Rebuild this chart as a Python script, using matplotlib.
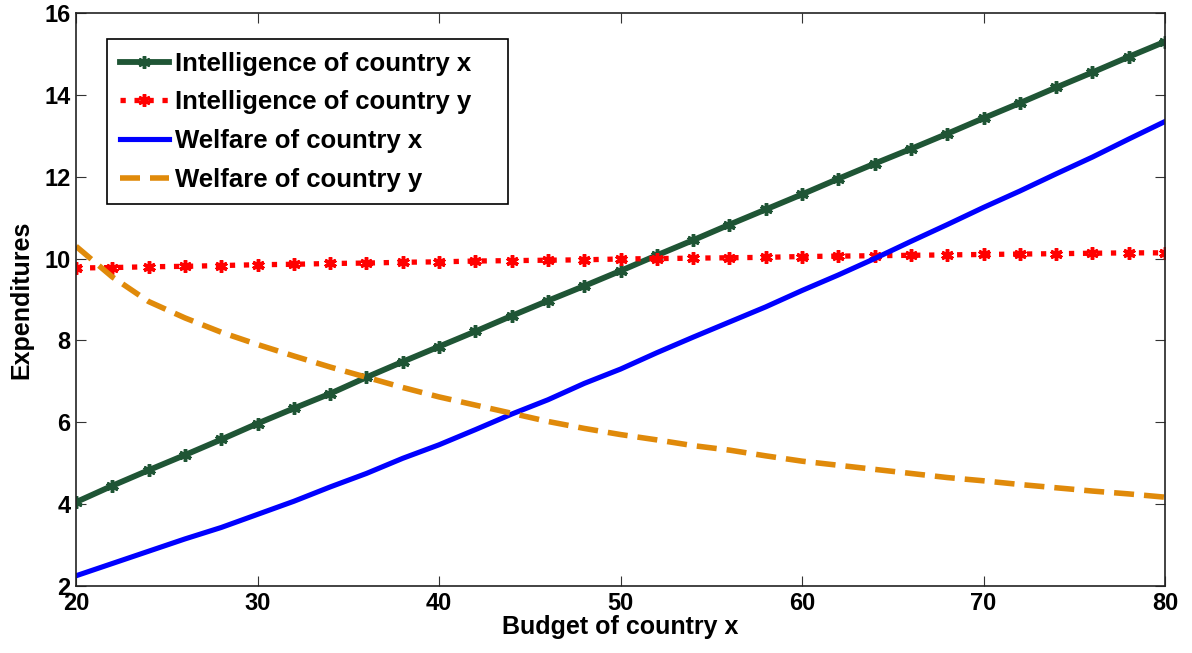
import matplotlib.pyplot as plt

plt.rcParams['font.family'] = ['Liberation Sans', 'DejaVu Sans']
plt.rcParams['font.weight'] = 'bold'

budget = list(range(20, 81, 2))

intel_x = [4.05, 4.45, 4.83, 5.20, 5.58, 5.97, 6.34, 6.70, 7.10, 7.48, 7.85,
           8.22, 8.60, 8.97, 9.33, 9.70, 10.08, 10.45, 10.83, 11.20, 11.57,
           11.95, 12.32, 12.68, 13.05, 13.43, 13.80, 14.18, 14.55, 14.93, 15.30]
intel_y = [9.77, 9.78, 9.80, 9.81, 9.83, 9.85, 9.86, 9.88, 9.89, 9.91, 9.92,
           9.94, 9.95, 9.96, 9.97, 9.99, 10.00, 10.01, 10.02, 10.03, 10.05,
           10.06, 10.07, 10.08, 10.09, 10.10, 10.11, 10.12, 10.13, 10.14, 10.14]
welfare_x = [2.25, 2.55, 2.85, 3.15, 3.43, 3.75, 4.07, 4.42, 4.75, 5.12, 5.45,
             5.82, 6.20, 6.55, 6.95, 7.30, 7.70, 8.08, 8.45, 8.82, 9.22,
             9.60, 10.00, 10.42, 10.83, 11.25, 11.65, 12.07, 12.48, 12.92, 13.35]
welfare_y = [10.30, 9.55, 8.95, 8.55, 8.20, 7.90, 7.62, 7.35, 7.10, 6.85, 6.62,
             6.42, 6.22, 6.02, 5.85, 5.70, 5.57, 5.43, 5.32, 5.18, 5.05,
             4.95, 4.85, 4.75, 4.65, 4.57, 4.48, 4.40, 4.32, 4.25, 4.17]

fig = plt.figure(figsize=(11.92, 6.53), dpi=100)
ax = fig.add_axes([0.0638, 0.1026, 0.9136, 0.8775])

# asterisk marker, drawn with thick strokes so it reads as a blob on the line
star = (6, 2, 0)
ax.plot(budget, intel_x, '-', color='#1f5535', lw=4.2, marker=star, ms=9,
        mew=2.5, label='Intelligence of country x')
ax.plot(budget, intel_y, ':', color='#ff0000', lw=3.8, marker=star, ms=9,
        mew=2.5, label='Intelligence of country y')
ax.plot(budget, welfare_x, '-', color='#0000ff', lw=3.7,
        label='Welfare of country x')
ax.plot(budget, welfare_y, '--', color='#e08a0a', lw=4.0, dashes=(3.6, 1.8),
        label='Welfare of country y')

ax.set_xlim(20, 80)
ax.set_ylim(2, 16)
ax.set_xticks(range(20, 81, 10))
ax.set_yticks(range(2, 17, 2))
ax.tick_params(direction='in', length=7, width=0.8, color='#333333',
               top=True, right=True, labelsize=17, pad=4)
for s in ax.spines.values():
    s.set_linewidth(1.2)
    s.set_color('#222222')

ax.set_xlabel('Budget of country x', fontsize=18, fontweight='bold', labelpad=0)
ax.set_ylabel('Expenditures', fontsize=18, fontweight='bold', labelpad=8)

leg = ax.legend(loc='upper left', bbox_to_anchor=(0.0285, 0.955, 0.368, 0),
                mode='expand', fontsize=18.5, fancybox=False,
                edgecolor='black', framealpha=1,
                handlelength=1.9, handletextpad=0.25, borderpad=0.5,
                borderaxespad=0, labelspacing=0.57)
leg.get_frame().set_linewidth(1.2)

fig.savefig('out.png', dpi=100)
